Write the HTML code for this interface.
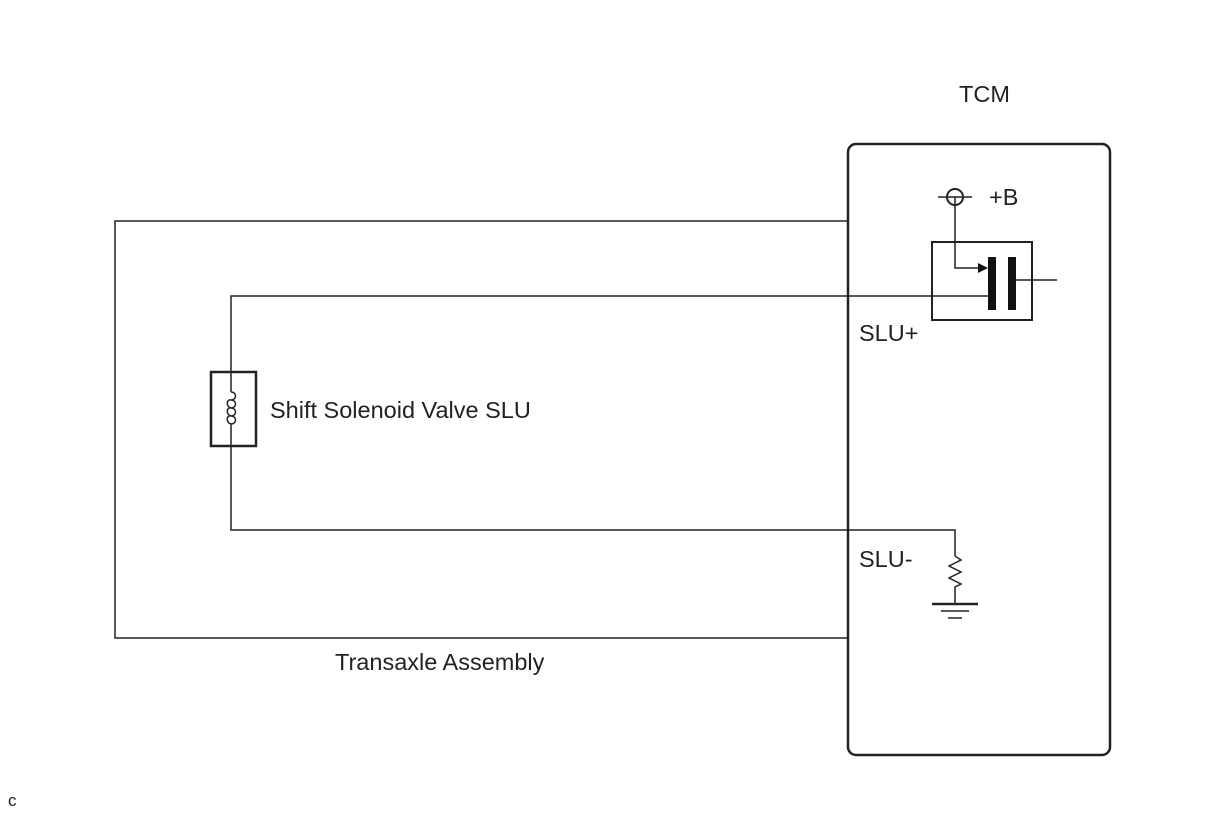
<!DOCTYPE html>
<html><head><style>body{margin:0;background:#fff}svg{display:block}</style></head><body>
<svg width="1210" height="814" xmlns="http://www.w3.org/2000/svg" font-family="Liberation Sans, Arial, sans-serif" font-size="23.5">
<g stroke="#222" stroke-width="1.5" fill="none">
<rect x="848" y="144" width="262" height="611" rx="8" stroke-width="2.5"/>
<polyline points="848,221 115,221 115,638 848,638"/>
<circle cx="955" cy="197" r="8" stroke-width="2"/>
<line x1="938" y1="197" x2="972" y2="197"/>
<polyline points="955,197 955,268 978,268"/>
<rect x="932" y="242" width="100" height="78" stroke-width="2"/>
<line x1="1016" y1="280" x2="1057" y2="280"/>
<polyline points="988,296 231,296 231,392"/>
<rect x="211" y="372" width="45" height="74" stroke-width="2.5"/>
<polyline points="231,431 231,530 955,530 955,556"/>
<path d="M231,392 c6,0 6,8 0,8 c6,0 6,8 0,8 c6,0 6,8 0,8 c6,0 6,8 0,8 M231,400 c-5,-1 -5,7 0,8 M231,408 c-5,-1 -5,7 0,8 M231,416 c-5,-1 -5,7 0,8 L231,431"/>
<polyline points="955,556 961,560 949,566 961,572 949,578 961,584 955,587 955,604"/>
<line x1="932" y1="604" x2="978" y2="604" stroke-width="2.5"/>
<line x1="941" y1="611" x2="969" y2="611"/>
<line x1="948" y1="618" x2="962" y2="618"/>
</g>
<polygon points="978,263 988,268 978,273" fill="#111"/>
<rect x="988" y="257" width="8" height="53" fill="#111"/>
<rect x="1008" y="257" width="8" height="53" fill="#111"/>
<g fill="#222">
<text x="959" y="102">TCM</text>
<text x="989" y="205">+B</text>
<text x="859" y="341">SLU+</text>
<text x="859" y="567">SLU-</text>
<text x="270" y="418">Shift Solenoid Valve SLU</text>
<text x="335" y="670">Transaxle Assembly</text>
<text x="8" y="806" font-size="17">c</text>
</g>
</svg>
</body></html>
